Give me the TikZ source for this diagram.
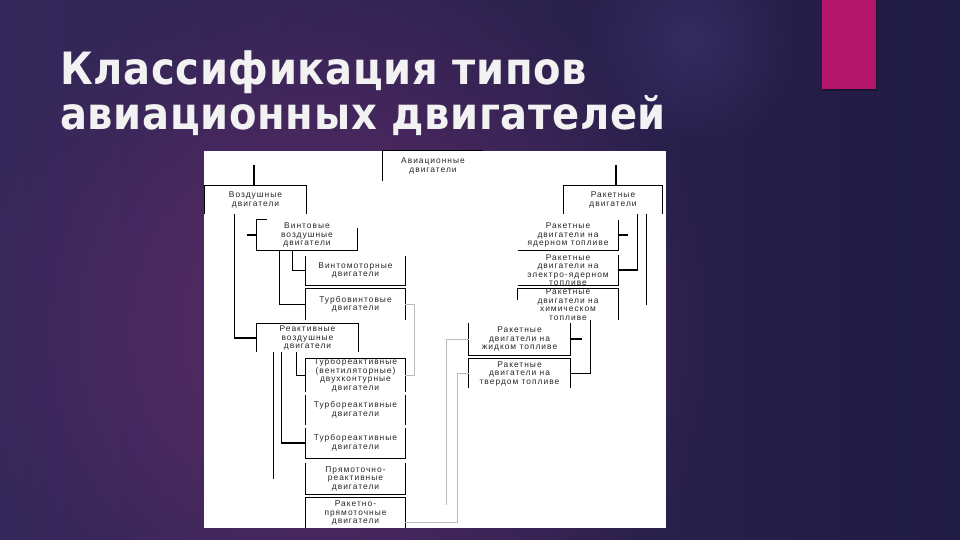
\documentclass[tikz,border=0pt]{standalone}
\usepackage{fontspec}
\setmainfont{DejaVu Sans}
\newfontfamily\titlefont[LetterSpace=1.5]{DejaVu Sans Condensed}
\newfontfamily\boxfont[LetterSpace=12]{Liberation Sans}
\usetikzlibrary{fadings}
\tikzfading[name=glowfade, inner color=transparent!0, outer color=transparent!100]
\definecolor{bgleft}{HTML}{35285A}
\definecolor{bgright}{HTML}{211C43}
\definecolor{glow}{HTML}{612B6B}
\definecolor{glowb}{HTML}{3E3470}
\definecolor{barcol}{HTML}{B3166B}
\definecolor{grayln}{HTML}{BBBBBB}
\tikzset{
  bx/.style 2 args={inner sep=0pt, minimum width=#1pt, minimum height=#2pt},
  txt/.style={inner sep=0pt, align=center, text=black!85, font=\boxfont\fontsize{8.4}{8.5}\selectfont},
  ln/.style={line width=1.2pt, black},
  gl/.style={line width=1pt, grayln},
  ttl/.style={anchor=base west, inner sep=0pt, text=white!95!black, font=\titlefont\bfseries\fontsize{44.5}{50}\selectfont}
}
\begin{document}
\begin{tikzpicture}[x=1pt,y=-1pt]
\useasboundingbox (0,0) rectangle (960,540);
% background
\shade[left color=bgleft, right color=bgright] (0,0) rectangle (960,540);
\fill[glow, path fading=glowfade] (340,330) circle[radius=380pt];
\fill[glowb, path fading=glowfade, opacity=0.6] (690,40) circle[radius=110pt];
% accent bar
\fill[black, opacity=0.3] (823,0) rectangle (877,91);
\fill[barcol] (822,0) rectangle (876,89);
% title
\node[ttl] (T1) at (60,85) {Классификация типов};
\node[ttl] (T2) at (60,130) {авиационных двигателей};
% white panel
\fill[white] (204,151) rectangle (666,528);
% box frames (invisible nodes)
\node[bx={100}{30}] (A) at (433,166) {};
\node[bx={101}{28}] (V) at (255.5,200) {};
\node[bx={98}{28}] (R) at (613,200) {};
\node[bx={100}{30}] (V1) at (307,235) {};
\node[bx={99}{29}] (V11) at (355.5,270.5) {};
\node[bx={99}{31}] (V12) at (355.5,304.5) {};
\node[bx={101}{28}] (V2) at (307.5,338) {};
\node[bx={99}{33}] (V21) at (355.5,375.5) {};
\node[bx={99}{30}] (V22) at (355.5,410) {};
\node[bx={99}{30}] (V23) at (355.5,443) {};
\node[bx={99}{31}] (V24) at (355.5,478.5) {};
\node[bx={99}{30}] (V25) at (355.5,513) {};
\node[bx={100}{30}] (R1) at (568,235) {};
\node[bx={100}{30}] (R2) at (568,270) {};
\node[bx={100}{31}] (R3) at (568,304.5) {};
\node[bx={101}{32}] (R4) at (519.5,339) {};
\node[bx={101}{29}] (R5) at (519.5,373.5) {};
% texts
\node[txt] (At) at (A) {Авиационные\\двигатели};
\node[txt] (Vt) at (V) {Воздушные\\двигатели};
\node[txt] (Rt) at (R) {Ракетные\\двигатели};
\node[txt] (V1t) at (V1) {Винтовые\\воздушные\\двигатели};
\node[txt] (V11t) at (V11) {Винтомоторные\\двигатели};
\node[txt] (V12t) at (V12) {Турбовинтовые\\двигатели};
\node[txt] (V2t) at (V2) {Реактивные\\воздушные\\двигатели};
\node[txt] (V21t) at (V21) {Турбореактивные\\(вентиляторные)\\двухконтурные\\двигатели};
\node[txt] (V22t) at (V22) {Турбореактивные\\двигатели};
\node[txt] (V23t) at (V23) {Турбореактивные\\двигатели};
\node[txt] (V24t) at (V24) {Прямоточно-\\реактивные\\двигатели};
\node[txt] (V25t) at (V25) {Ракетно-\\прямоточные\\двигатели};
\node[txt] (R1t) at (R1) {Ракетные\\двигатели на\\ядерном топливе};
\node[txt] (R2t) at (R2) {Ракетные\\двигатели на\\электро-ядерном\\топливе};
\node[txt] (R3t) at (R3) {Ракетные\\двигатели на\\химическом\\топливе};
\node[txt] (R4t) at (R4) {Ракетные\\двигатели на\\жидком топливе};
\node[txt] (R5t) at (R5) {Ракетные\\двигатели на\\твердом топливе};
% frames (partial, as in the scan)
\draw[ln] (A.south west) -- (A.north west) -- (A.north east);
\draw[ln] (V.south west) -- (V.north west) -- (V.north east) -- (V.south east);
\draw[ln] (R.south west) -- (R.north west) -- (R.north east) -- (R.south east);
\draw[ln] ([xshift=10pt]V1.north west) -- (V1.north west) -- (V1.south west) -- (V1.south east) -- ([yshift=-8pt]V1.north east);
\draw[ln] (V11.north west) -- (V11.south west) -- (V11.south east) -- (V11.north east);
\draw[ln] (V12.south west) -- (V12.north west) -- (V12.north east) -- (V12.south east);
\draw[ln] (V2.south west) -- (V2.north west) -- (V2.north east) -- (V2.south east);
\draw[ln] (V21.south west) -- (V21.north west) -- (V21.north east) -- (V21.south east);
\draw[ln] (V22.north west) -- (V22.south west);
\draw[ln] (V22.north east) -- (V22.south east);
\draw[ln] (V23.north west) -- (V23.south west) -- (V23.south east) -- (V23.north east);
\draw[ln] (V24.north west) -- (V24.south west) -- (V24.south east) -- (V24.north east);
\draw[ln] (V25.south west) -- (V25.north west) -- (V25.north east) -- (V25.south east);
\draw[ln] (R1.south west) -- (R1.south east) -- (R1.north east);
\draw[ln] (R2.south west) -- (R2.south east) -- (R2.north east);
\draw[ln] ([yshift=-11pt]R3.north west) -- (R3.north west) -- (R3.north east) -- (R3.south east);
\draw[ln] (R4.north west) -- (R4.south west) -- (R4.south east) -- (R4.north east);
\draw[ln] (R5.south west) -- (R5.north west) -- (R5.north east) -- (R5.south east);
% connectors (black)
\draw[ln] ([xshift=-1.5pt]V.north) -- ++(0,-21);
\draw[ln] ([xshift=3pt]R.north) -- ++(0,-21);
\draw[ln] ([xshift=30pt]V.south west) |- (V2.west);
\draw[ln] (V1.west) -- ++(-10,0);
\draw[ln] ([xshift=23pt]V1.south west) |- (V12.west);
\draw[ln] ([xshift=36pt]V1.south west) |- (V11.west);
\draw[ln] ([xshift=25pt]V2.south west) |- (V23.west);
\draw[ln] ([xshift=40pt]V2.south west) |- (V21.west);
\coordinate (Vfree) at ([xshift=17pt]V2.south west);
\draw[ln] (Vfree) -- (Vfree |- V24.west);
\draw[ln] ([xshift=74pt]R.south west) |- (R2.east);
\draw[ln] (R1.east) -- ++(10,0);
\coordinate (Rfree) at ([xshift=83pt]R.south west);
\draw[ln] (Rfree) -- ++(0,91);
\draw[ln] (R4.east) -- ++(12,0);
\draw[ln] ([xshift=-28pt]R3.south east) |- (R5.east);
% connectors (gray)
\draw[gl] (V12.east) -- ++(9,0) |- (V21.east);
\draw[gl] (R4.west) -- ++(-22,0) -- ++(0,166);
\draw[gl] (R5.west) -- ++(-11,0) |- ([yshift=-9pt]V25.east);
\end{tikzpicture}
\end{document}
